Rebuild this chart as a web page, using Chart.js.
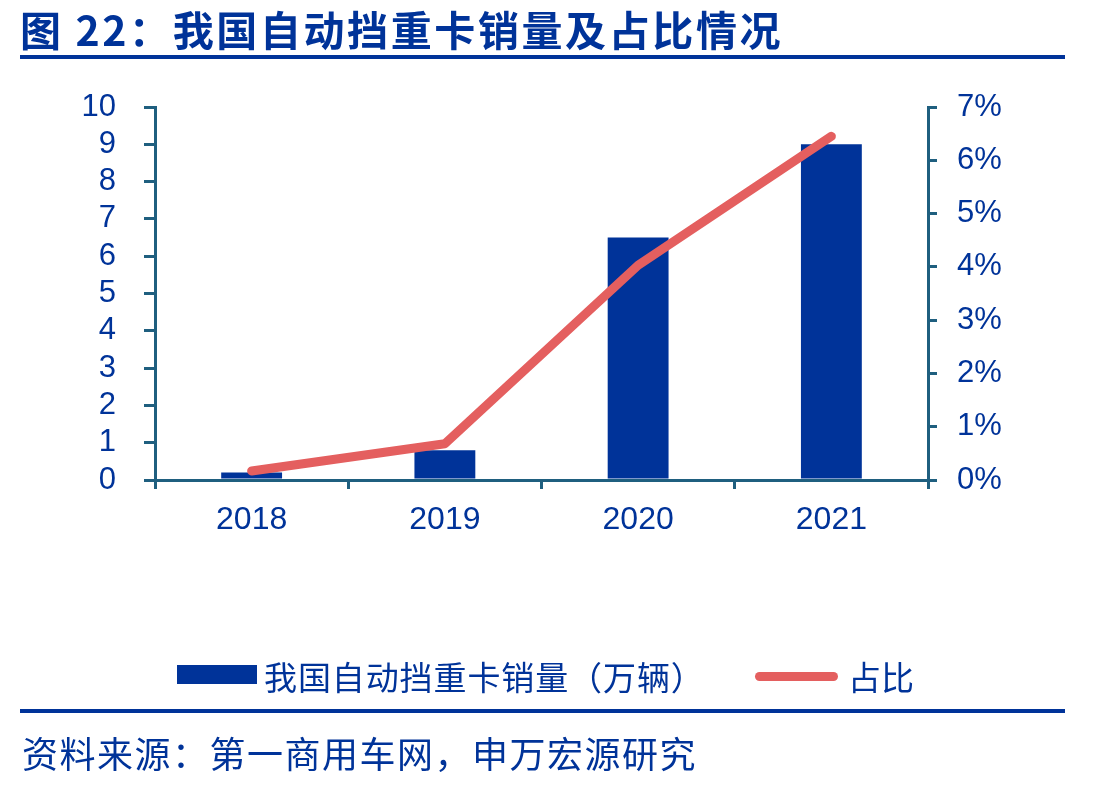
<!DOCTYPE html>
<html><head><meta charset="utf-8">
<script src="https://cdn.jsdelivr.net/npm/chart.js@4/dist/chart.umd.min.js"></script>
<style>
html,body{margin:0;padding:0;background:#fff;}
#wrap{position:relative;width:1110px;height:787px;overflow:hidden;}
#c{position:absolute;left:0;top:0;}
.t{position:absolute;white-space:nowrap;color:#003399;font-family:"Noto Sans CJK SC","Liberation Sans",sans-serif;}
#title{left:20px;top:2px;font-size:41px;font-weight:bold;letter-spacing:2.6px;line-height:52px;}
.rule{position:absolute;left:20px;width:1045px;height:4px;background:#003399;}
#leg1box{position:absolute;left:177px;top:665px;width:80px;height:19px;background:#003399;}
#leg2line{position:absolute;left:755px;top:672px;width:83px;height:9px;background:#E45F5F;border-radius:5px;}
#leg1{left:264px;top:654px;font-size:33px;letter-spacing:0.9px;line-height:44px;}
#leg2{left:848px;top:654px;font-size:33px;line-height:44px;}
#src{left:22px;top:729px;font-size:36px;letter-spacing:1.5px;line-height:46px;}
</style></head>
<body><div id="wrap">
<canvas id="c" width="1110" height="787"></canvas>
<div class="t" id="title">图 22：我国自动挡重卡销量及占比情况</div>
<div class="rule" style="top:55px"></div>
<div id="leg1box"></div><div class="t" id="leg1">我国自动挡重卡销量（万辆）</div>
<div id="leg2line"></div><div class="t" id="leg2">占比</div>
<div class="rule" style="top:709px"></div>
<div class="t" id="src">资料来源：第一商用车网，申万宏源研究</div>
</div>
<script>
const categories = ['2018','2019','2020','2021'];
const salesValues = [0.2, 0.8, 6.5, 9.0];
const shareValues = [0.17, 0.68, 4.03, 6.45];
const leftTicks = [0,1,2,3,4,5,6,7,8,9,10];
const rightTicks = [0,1,2,3,4,5,6,7];

const axisColor = '#1F5F7F';
const textColor = '#003399';
const yFont = {family:'"Liberation Sans", Arial, sans-serif', size:31};
const xFont = {family:'"Liberation Sans", Arial, sans-serif', size:32};

new Chart(document.getElementById('c'), {
  data: {
    labels: categories,
    datasets: [
      {type:'line', label:'占比', data: shareValues, yAxisID:'y1', borderColor:'#E45F5F', borderWidth:9,
       borderCapStyle:'round', borderJoinStyle:'round', pointRadius:0, tension:0, order:0},
      {type:'bar', label:'我国自动挡重卡销量（万辆）', data: salesValues, yAxisID:'y', backgroundColor:'#003399',
       barPercentage:0.315, categoryPercentage:1, order:1}
    ]
  },
  options: {
    responsive:false, animation:false,
    layout:{padding:{left:0,right:0,top:107,bottom:0}},
    plugins:{legend:{display:false}, tooltip:{enabled:false}},
    scales:{
      x:{
        grid:{display:true, drawOnChartArea:false, drawTicks:true, tickLength:9, color:axisColor, lineWidth:3, offset:true},
        border:{display:true, color:axisColor, width:3},
        ticks:{color:textColor, font:xFont, padding:12, autoSkip:false, maxRotation:0},
        afterFit:(s)=>{s.height = 787-480;}
      },
      y:{
        position:'left', min:0, max:10,
        afterBuildTicks:(s)=>{s.ticks = leftTicks.map(v=>({value:v}));},
        grid:{display:true, drawOnChartArea:false, drawTicks:true, tickLength:11, color:axisColor, lineWidth:3},
        border:{display:true, color:axisColor, width:3},
        ticks:{color:textColor, font:yFont, padding:28, autoSkip:false},
        afterFit:(s)=>{s.width = 155;}
      },
      y1:{
        position:'right', min:0, max:7,
        afterBuildTicks:(s)=>{s.ticks = rightTicks.map(v=>({value:v}));},
        grid:{display:true, drawOnChartArea:false, drawTicks:true, tickLength:9, color:axisColor, lineWidth:3},
        border:{display:true, color:axisColor, width:3},
        ticks:{color:textColor, font:yFont, padding:20, autoSkip:false, callback:(v)=>v+'%'},
        afterFit:(s)=>{s.width = 1110-928;}
      }
    }
  }
});
</script>
</body></html>
